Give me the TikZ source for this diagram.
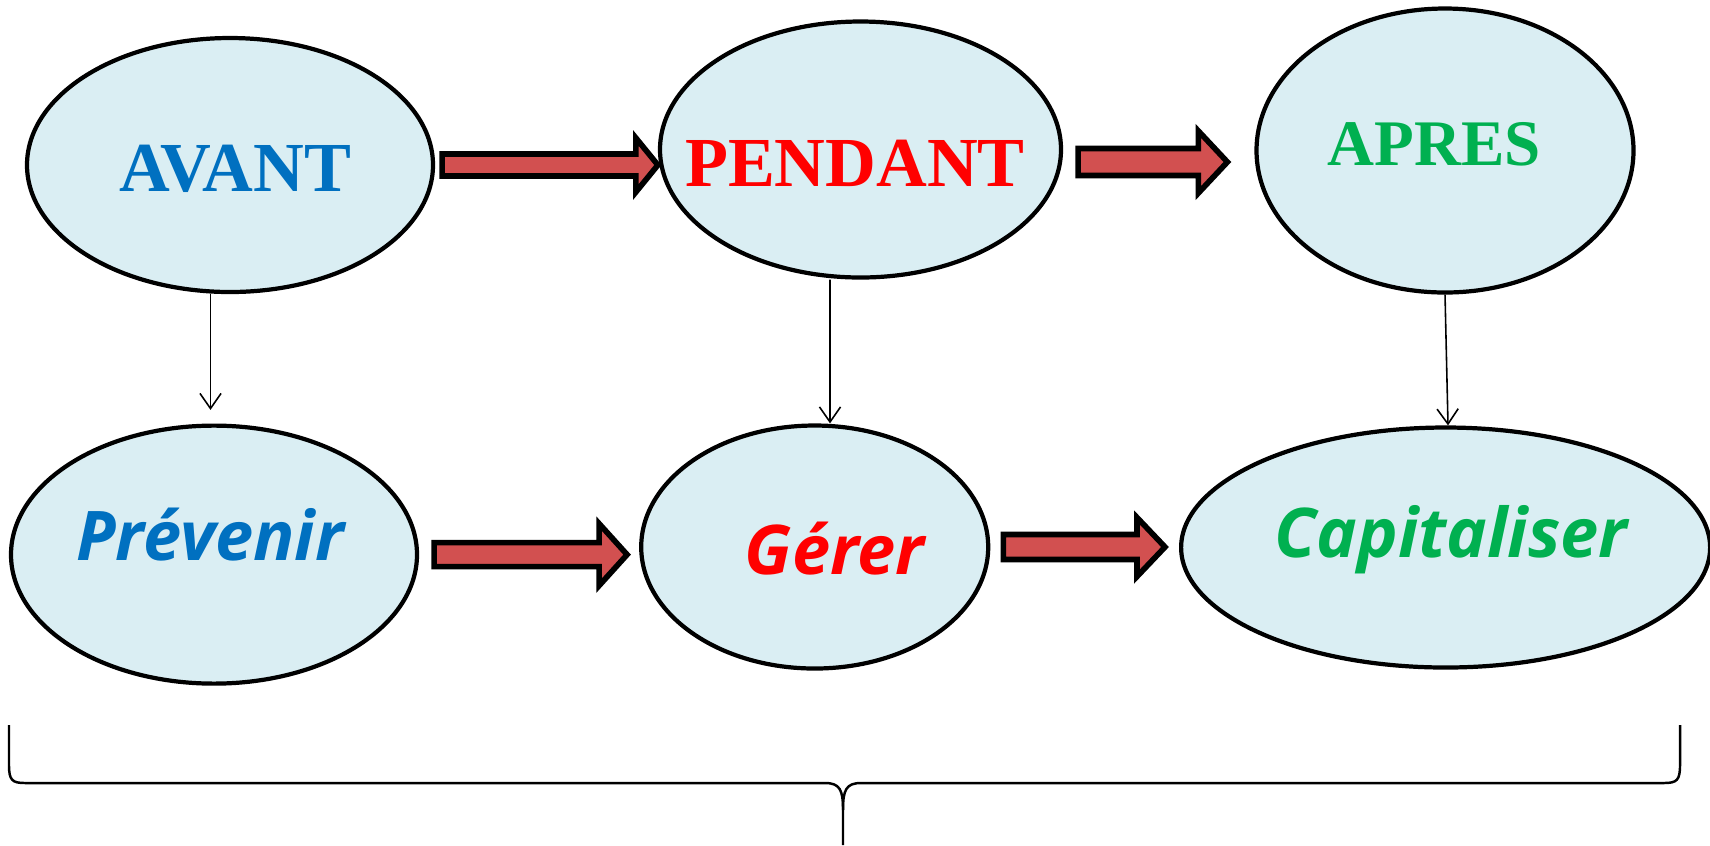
\documentclass[tikz,border=0pt]{standalone}
\usepackage{fontspec}
\setmainfont{Liberation Serif}
\newfontfamily\sansit{Open Sans}
\usetikzlibrary{arrows.meta,calc,shapes.geometric}

\definecolor{stagefill}{HTML}{DAEEF3}
\definecolor{arrowfill}{RGB}{210,80,80}
\definecolor{avantblue}{HTML}{0070C0}
\definecolor{pendantred}{HTML}{FF0000}
\definecolor{apresgreen}{HTML}{00B050}

% text inside an ellipse: x shift, baseline below centre, text
\newcommand{\inlabel}[3]{\raisebox{-#2}[0pt][0pt]{\makebox[0pt]{\hspace*{#1}#3\hspace*{-#1}}}}
\newcommand{\phase}{\fontsize{20}{24}\selectfont\bfseries}
\newcommand{\action}{\fontsize{19.5}{23}\selectfont\sansit\bfseries\itshape}

% fat arrow: from (#1) to x of (#2), shaft half, head half, head length
\newcommand{\blockarrow}[5]{%
    \path[blockarrow] let \p1=(#1), \p2=(#2) in
        (\x1,\y1+#3) -- (\x2-#5,\y1+#3) -- (\x2-#5,\y1+#4) -- (\x2,\y1)
        -- (\x2-#5,\y1-#4) -- (\x2-#5,\y1-#3) -- (\x1,\y1-#3) -- cycle;}

\tikzset{
    stage/.style={ellipse, draw=black, line width=1.2pt, fill=stagefill, inner sep=0pt},
    blockarrow/.style={draw=black, line width=1.6pt, fill=arrowfill, line join=miter},
    thinarrow/.style={line width=0.45pt, -{Straight Barb[length=4.3pt,width=6pt]}},
}

\begin{document}
\begin{tikzpicture}
        \useasboundingbox (0,0) rectangle (17.10,-8.45);
        \fill[white] (0,0) rectangle (17.10,-8.45);
        \begin{scope}[every node/.style={stage}]
            \node[minimum width=4.06cm, minimum height=2.54cm] (avant) at (2.30, -1.65)
                {\inlabel{0.05cm}{0.26cm}{\phase\color{avantblue}AVANT}};
            \node[minimum width=4.01cm, minimum height=2.56cm] (pendant) at (8.605, -1.495)
                {\inlabel{-0.055cm}{0.365cm}{\phase\color{pendantred}PENDANT}};
            \node[minimum width=3.77cm, minimum height=2.84cm] (apres) at (14.45, -1.505)
                {\inlabel{-0.11cm}{0.145cm}{\fontsize{18.5}{22}\selectfont\bfseries\color{apresgreen}APRES}};
            \node[minimum width=4.06cm, minimum height=2.58cm] (prevenir) at (2.14, -5.546)
                {\inlabel{-0.04cm}{0.054cm}{\action\color{avantblue}Prévenir}};
            \node[minimum width=3.47cm, minimum height=2.43cm] (gerer) at (8.147, -5.47)
                {\inlabel{0.2cm}{0.27cm}{\action\color{pendantred}Gérer}};
            \node[minimum width=5.29cm, minimum height=2.40cm] (capitaliser) at (14.456, -5.475)
                {\inlabel{0.055cm}{0.095cm}{\action\color{apresgreen}Capitaliser}};
        \end{scope}
        \blockarrow{[xshift=0.07cm]avant.east}{pendant.west}{0.11cm}{0.27cm}{0.22cm}
        \blockarrow{[xshift=0.15cm,yshift=-0.125cm]pendant.east}{[xshift=-0.27cm]apres.west}{0.135cm}{0.31cm}{0.29cm}
        \blockarrow{[xshift=0.15cm]prevenir.east}{[xshift=-0.12cm]gerer.west}{0.12cm}{0.31cm}{0.28cm}
        \blockarrow{[xshift=0.13cm]gerer.east}{[xshift=-0.14cm]capitaliser.west}{0.125cm}{0.295cm}{0.28cm}
        \path [thinarrow] ([xshift=-0.195cm]avant.south) edge ([xshift=-0.035cm,yshift=0.136cm]prevenir.north);
        \path [thinarrow] ([xshift=-0.305cm]pendant.south) edge ([xshift=0.153cm]gerer.north);
        \path [thinarrow] (apres.south) edge ([xshift=0.024cm]capitaliser.north);
        % brace under the three steps
        \draw[line width=0.7pt] (0.09,-7.25) -- (0.09,-7.65)
            .. controls (0.09,-7.80) and (0.12,-7.83) .. (0.25,-7.83) -- (8.25,-7.83)
            .. controls (8.40,-7.83) and (8.43,-7.90) .. (8.43,-8.10) -- (8.43,-8.45);
        \draw[line width=0.7pt] (8.43,-8.10)
            .. controls (8.43,-7.90) and (8.46,-7.83) .. (8.61,-7.83) -- (16.64,-7.83)
            .. controls (16.77,-7.83) and (16.80,-7.80) .. (16.80,-7.65) -- (16.80,-7.25);
    \end{tikzpicture}
\end{document}
